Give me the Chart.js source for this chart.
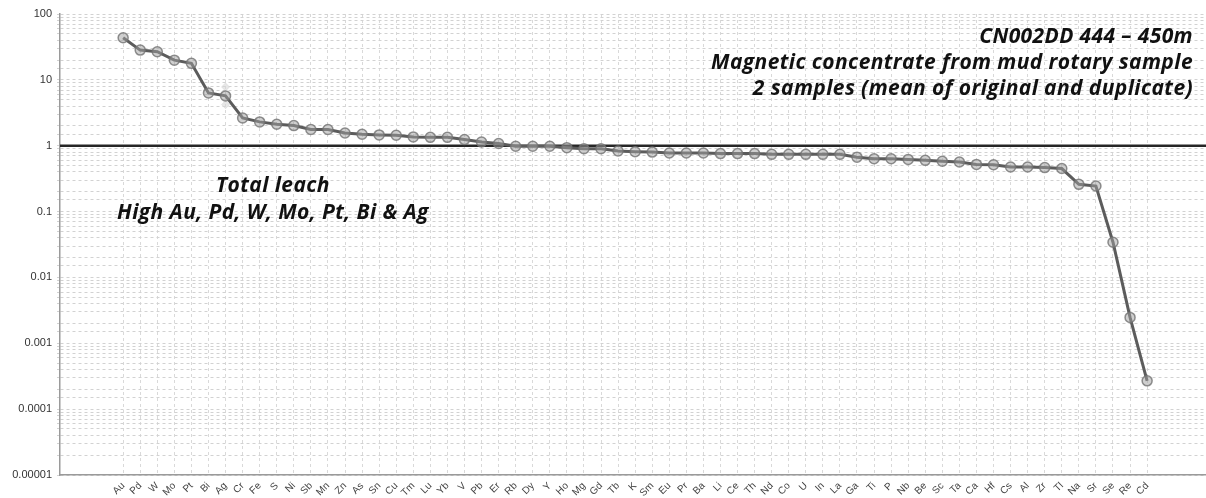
<!DOCTYPE html>
<html>
<head>
<meta charset="utf-8">
<script src="https://cdn.jsdelivr.net/npm/chart.js@4/dist/chart.umd.min.js"></script>
<style>
html,body{margin:0;padding:0;background:#fff;}
#wrap{width:1206px;height:498px;position:relative;}
</style>
</head>
<body>
<div id="wrap"><canvas id="c" width="1206" height="498"></canvas></div>
<script>
const elements = ['Au','Pd','W','Mo','Pt','Bi','Ag','Cr','Fe','S','Ni','Sb','Mn','Zn','As','Sn','Cu','Tm','Lu','Yb','V','Pb','Er','Rb','Dy','Y','Ho','Mg','Gd','Tb','K','Sm','Eu','Pr','Ba','Li','Ce','Th','Nd','Co','U','In','La','Ga','Ti','P','Nb','Be','Sc','Ta','Ca','Hf','Cs','Al','Zr','Tl','Na','Sr','Se','Re','Cd'];
const meanValues = [43.6,28.3,26.7,19.9,17.8,6.34,5.71,2.64,2.30,2.12,2.02,1.76,1.76,1.56,1.49,1.46,1.44,1.36,1.34,1.34,1.24,1.14,1.08,0.98,0.98,0.98,0.935,0.90,0.90,0.83,0.81,0.80,0.775,0.775,0.775,0.76,0.76,0.76,0.74,0.74,0.74,0.74,0.74,0.67,0.635,0.635,0.62,0.60,0.58,0.565,0.52,0.515,0.475,0.475,0.465,0.45,0.259,0.244,0.0342,0.00247,0.000269];
const faintIndex = [6,6];
const faintValues = [7.8,4.2];
const yTickLabels = ['0.00001','0.0001','0.001','0.01','0.1','1','10','100'];
const refLevel = [1,1];
const titleLines = ['CN002DD 444 \u2013 450m','Magnetic concentrate from mud rotary sample','2 samples (mean of original and duplicate)'];
const noteLines = ['Total leach','High Au, Pd, W, Mo, Pt, Bi & Ag'];

const xMin = -3.7, xMax = 63.45;

const textPlugin = {
  id:'texts',
  afterDraw(chart){
    const ctx = chart.ctx;
    ctx.save();
    ctx.fillStyle = '#111';
    ctx.font = 'italic bold 21px "Open Sans"';
    try { ctx.letterSpacing = '0.4px'; } catch(e) {}
    ctx.textAlign = 'right';
    ctx.textBaseline = 'middle';
    const ty = [37,63,89];
    titleLines.forEach((t,i)=>ctx.fillText(t,1193,ty[i]));
    ctx.textAlign = 'center';
    const ny = [186,213];
    noteLines.forEach((t,i)=>ctx.fillText(t,273,ny[i]));
    ctx.restore();
  }
};

new Chart(document.getElementById('c'), {
  type:'line',
  data:{
    datasets:[
      {
        data: meanValues.map((v,i)=>({x:i,y:v})),
        borderColor:'#5c5c5c',
        borderWidth:3,
        pointRadius:5,
        pointBackgroundColor:'rgba(160,160,160,0.5)',
        pointBorderColor:'rgba(115,115,115,0.8)',
        pointBorderWidth:1.5,
        tension:0,
        order:1
      },
      {
        data: faintIndex.map((x,i)=>({x:x,y:faintValues[i]})),
        showLine:false,
        pointRadius:4,
        pointStyle:'rectRot',
        pointBackgroundColor:'rgba(215,215,215,0.6)',
        pointBorderColor:'rgba(215,215,215,0.6)',
        order:3
      },
      {
        data:[{x:xMin,y:refLevel[0]},{x:xMax,y:refLevel[1]}],
        borderColor:'#262626',
        borderWidth:2.5,
        pointRadius:0,
        order:2
      }
    ]
  },
  plugins:[textPlugin],
  options:{
    responsive:false,
    animation:false,
    layout:{autoPadding:false,padding:{top:14,right:0,bottom:0,left:0}},
    plugins:{legend:{display:false},tooltip:{enabled:false}},
    scales:{
      x:{
        type:'linear',
        min:xMin,max:xMax,
        afterBuildTicks(scale){
          scale.ticks = elements.map((e,i)=>({value:i}));
        },
        afterFit(scale){ scale.height = 23; scale.paddingRight = 0; scale.paddingLeft = 0; },
        ticks:{
          autoSkip:false,
          minRotation:45,maxRotation:45,
          padding:5,
          font:{family:'"Liberation Sans", Arial',size:10},
          color:'#444',
          callback:(v)=>elements[v] ?? ''
        },
        grid:{color:'#d9d9d9',drawTicks:false},
        border:{color:'#9a9a9a',width:1.5,dash:[3,3]}
      },
      y:{
        type:'logarithmic',
        min:0.00001,max:100,
        afterFit(scale){ scale.width = 60; },
        ticks:{
          autoSkip:false,
          padding:5,
          font:{family:'"Liberation Sans", Arial',size:11},
          color:'#333',
          callback:(v)=>{
            const l = Math.log10(v);
            const e = Math.round(l);
            if (Math.abs(l-e) < 1e-6) return yTickLabels[e+5];
            return '';
          }
        },
        grid:{color:'#d2d2d2',tickLength:3},
        border:{color:'#9a9a9a',width:1.5,dash:[3,3]}
      }
    }
  }
});
</script>
</body>
</html>
